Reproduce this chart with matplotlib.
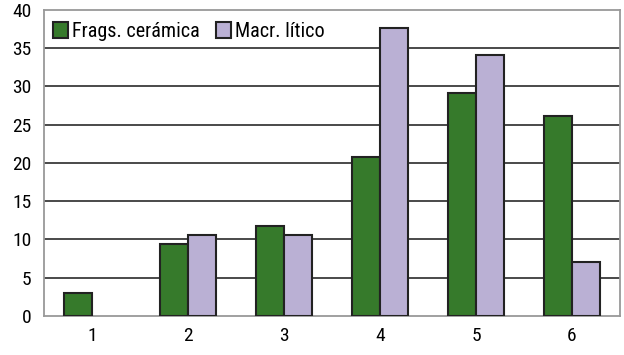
import matplotlib
matplotlib.use("Agg")
from matplotlib import pyplot as plt
import numpy as np

categories = ["1", "2", "3", "4", "5", "6"]
ceramica = [3.0, 9.4, 11.7, 20.8, 29.1, 26.1]
litico = [0, 10.6, 10.6, 37.7, 34.1, 7.1]
series_names = ["Frags. cerámica", "Macr. lítico"]

plt.rcParams["font.family"] = ["Liberation Sans Narrow", "Roboto Condensed", "Archivo Narrow",
                               "Barlow Condensed", "DejaVu Sans"]

fig = plt.figure(figsize=(6.24, 3.55), dpi=100)
ax = fig.add_axes([0.0705, 0.11, 0.923, 0.862])

x = np.arange(1, len(categories) + 1)
w = 0.29
lit = np.array(litico, dtype=float)
lit[lit == 0] = np.nan  # no bar drawn for empty values
ax.bar(x - w / 2, ceramica, w, color="#367A2B", edgecolor="#222222", linewidth=1.5,
       label=series_names[0], zorder=3)
ax.bar(x + w / 2, lit, w, color="#BAB0D4", edgecolor="#222222", linewidth=1.5,
       label=series_names[1], zorder=3)

ax.set_xlim(0.5, 6.5)
ax.set_ylim(0, 40)
ax.set_yticks(range(0, 41, 5))
ax.set_xticks(x)
ax.set_xticklabels(categories)
for y in range(5, 40, 5):
    ax.axhline(y, color="#3a3a3a", linewidth=1.3, zorder=1)
for s in ax.spines.values():
    s.set_color("#999999")
    s.set_linewidth(1.3)
ax.tick_params(length=0, labelsize=14, pad=8)
ax.tick_params(axis="y", pad=9)

ax.legend(loc="upper left", bbox_to_anchor=(-0.005, 1.0), ncol=2, frameon=False,
          fontsize=14.5, handlelength=0.75, handleheight=0.8, handletextpad=0.2,
          columnspacing=0.8, borderaxespad=0.2)

fig.savefig("out.png", dpi=100)
